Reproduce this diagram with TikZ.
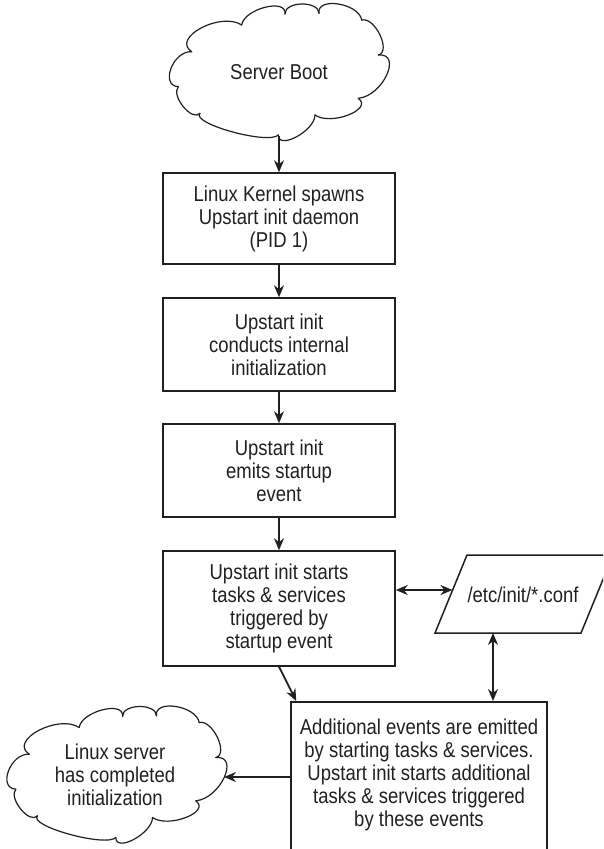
\documentclass[tikz,border=0pt]{standalone}
\usepackage{fontspec}
\setmainfont{Liberation Sans}[FakeStretch=0.86]
\usetikzlibrary{arrows.meta}
\definecolor{ink}{HTML}{231F20}
\newcommand\cloudoutline{%
  \foreach \ax/\ay/\px/\py/\bx/\by in {
    191.7/51.7/201/28/241.7/25,
    241.7/25/265/7.3/285/14,
    285/14/301.7/4/319/13.3,
    319/13.3/338.3/4/361.7/20,
    361.7/20/380/35/378.3/55,
    378.3/55/386.7/75/358.3/98.3,
    358.3/98.3/348.3/115/315/115,
    315/115/296.7/136.7/278.3/135,
    278.3/135/231.7/131.7/200/113.3,
    200/113.3/183.3/106.7/178.3/86.7,
    178.3/86.7/171/68.3/191.7/51.7}{
    \draw[cloudline] (\ax,\ay) .. controls ({(\ax+4*\px-2*\bx)/3},{(\ay+4*\py-2*\by)/3})
       and ({(\bx+4*\px-2*\ax)/3},{(\by+4*\py-2*\ay)/3}) .. (\bx,\by);
  }}
\begin{document}
\begin{tikzpicture}[x=1pt,y=-1pt,
  every node/.style={font=\fontsize{21.5}{23}\selectfont, text=ink, align=center},
  box/.style={draw=ink, line width=1.5pt, minimum width=232pt, inner sep=0pt},
  cloudline/.style={draw=ink, line width=1.2pt, line cap=round},
  shapeline/.style={draw=ink, line width=1.5pt, line join=miter},
  arr/.style={draw=ink, line width=1.8pt, -{Stealth[length=12pt,width=10pt]}},
  darr/.style={draw=ink, line width=1.8pt, {Stealth[length=12pt,width=10pt]}-{Stealth[length=12pt,width=10pt]}}
]
\useasboundingbox (0,0) rectangle (603,849);
\clip (0,0) rectangle (603,849);
% top cloud
\cloudoutline
\node (boot) at (279,72) {Server Boot};
\coordinate (bootB) at (279,136);
% boxes
\node[box, minimum height=91pt] (k1) at (279,218.5) {Linux Kernel spawns\\Upstart init daemon\\(PID 1)};
\node[box, minimum height=93pt] (k2) at (279,344.5) {Upstart init\\conducts internal\\initialization};
\node[box, minimum height=93pt] (k3) at (279,470.5) {Upstart init\\emits startup\\event};
\node[box, minimum height=115pt] (k4) at (279,608.5) {Upstart init starts\\tasks \& services\\triggered by\\startup event};
% parallelogram
\draw[shapeline] (435,633) -- (467,555) -- (613,555) -- (581,633) -- cycle;
\node (conf) at (523,595) {/etc/init/*.conf};
\coordinate (confL) at (452.5,590);
\coordinate (confB) at (493,633);
% bottom box
\node[box, minimum width=256pt, minimum height=180pt, anchor=north] (add) at (419,701) {};
\node (addtxt) at (419,775) {Additional events are emitted\\by starting tasks \& services.\\Upstart init starts additional\\tasks \& services triggered\\by these events};
% bottom cloud
\begin{scope}[shift={(-162.5,702.5)}]
\cloudoutline
\end{scope}
\node (done) at (115,775) {Linux server\\has completed\\initialization};
\coordinate (doneE) at (224,777);
% connectors
\draw[arr] (bootB) -- (k1.north);
\draw[arr] (k1) -- (k2);
\draw[arr] (k2) -- (k3);
\draw[arr] (k3) -- (k4);
\draw[darr] (k4.east |- confL) -- (confL);
\draw[darr] (confB) -- (confB |- add.north);
\draw[arr] (k4.south) -- ([xshift=6pt]add.north west);
\draw[arr] (add.west |- doneE) -- (doneE);
\end{tikzpicture}
\end{document}
